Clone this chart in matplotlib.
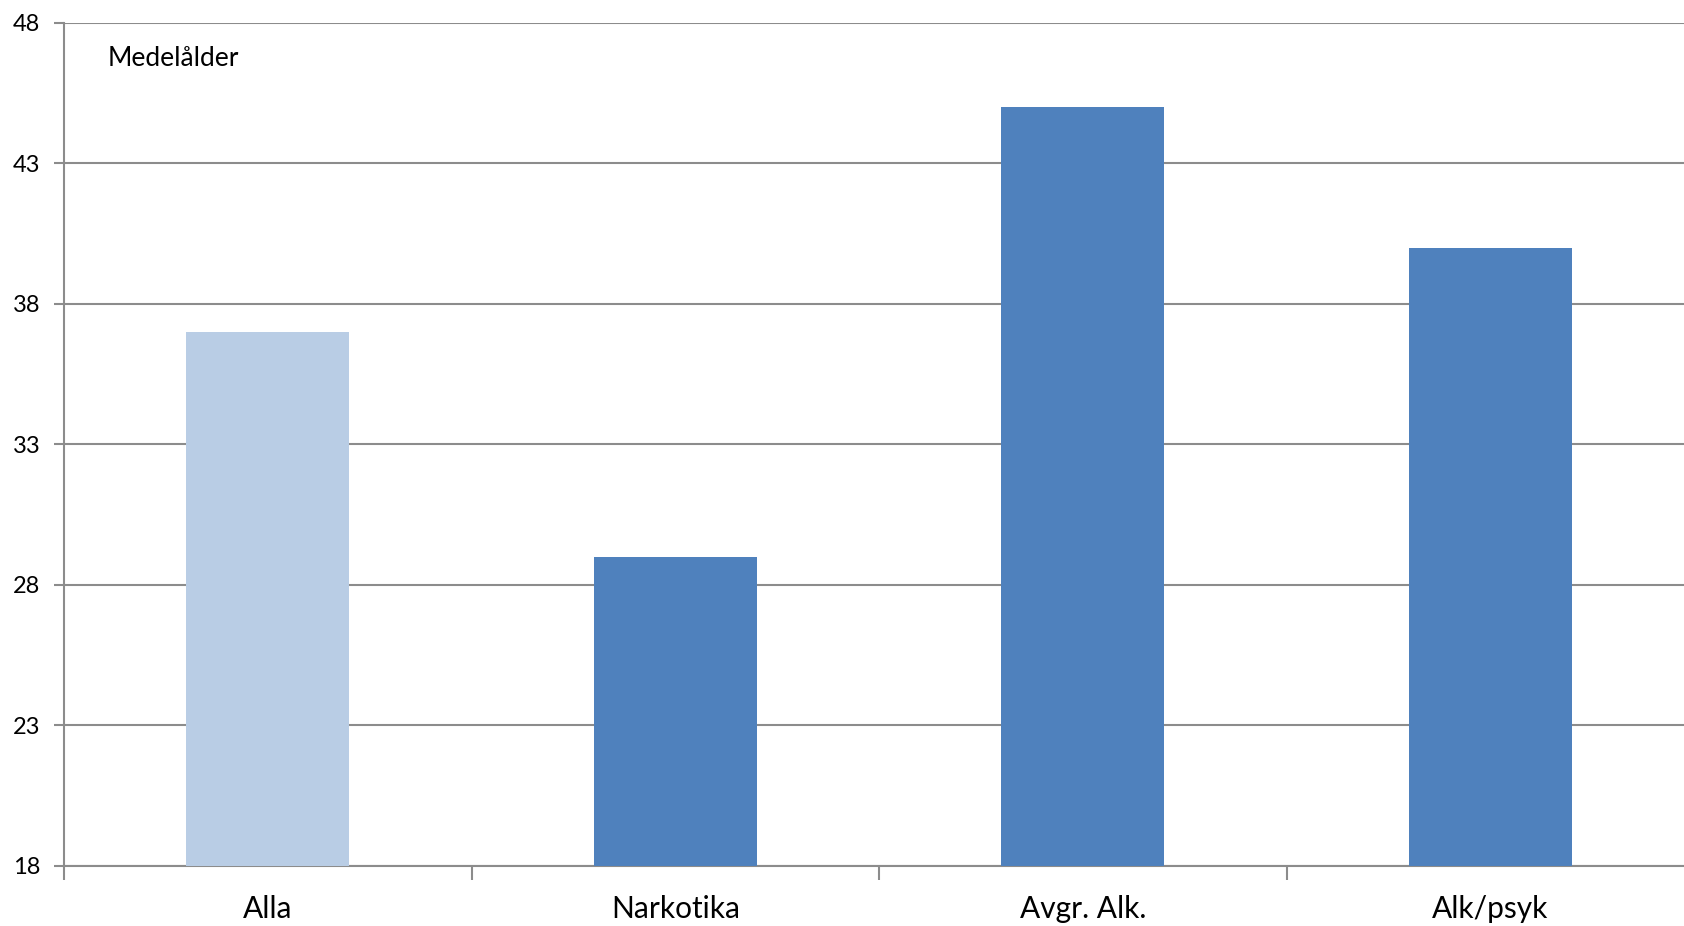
import numpy as np
import matplotlib.pyplot as plt

# Data
categories = ["Alla", "Narkotika", "Avgr. Alk.", "Alk/psyk"]
values = [37, 29, 45, 40]
colors = ["#B9CDE5", "#4F81BD", "#4F81BD", "#4F81BD"]
yticks = [18, 23, 28, 33, 38, 43, 48]

plt.rcParams['font.family'] = ['Lato', 'DejaVu Sans']

fig = plt.figure(figsize=(16.84, 9.26), dpi=100)
# plot area runs slightly past the right edge of the image
ax = fig.add_axes([64 / 1684, 1 - 866 / 926, (1694 - 64) / 1684, (866 - 22.7) / 926])

x = np.arange(len(categories))
ax.bar(x, [v - 18 for v in values], bottom=18, width=0.4, color=colors, zorder=3)

ax.set_xlim(-0.5, 3.5)
ax.set_ylim(18, 48)
ax.set_yticks(yticks)
ax.set_yticklabels([str(t) for t in yticks], fontsize=17)
ax.yaxis.grid(True, color="#8c8c8c", linewidth=1.5, zorder=0)
ax.tick_params(axis='y', length=7, width=1.5, color="#8c8c8c", pad=10)

# category boundaries as major ticks, labels at centres as minor ticks
ax.set_xticks([-0.5, 0.5, 1.5, 2.5])
ax.set_xticklabels([])
ax.tick_params(axis='x', which='major', length=10, width=1.5, color="#8c8c8c")
ax.set_xticks(x, minor=True)
ax.set_xticklabels(categories, minor=True, fontsize=21.5)
ax.tick_params(axis='x', which='minor', length=0, pad=21)

for s in ['top', 'right']:
    ax.spines[s].set_visible(False)
for s in ['left', 'bottom']:
    ax.spines[s].set_color("#8c8c8c")
    ax.spines[s].set_linewidth(1.5)

ax.text(0.0265, 0.958, "Medelålder", transform=ax.transAxes, fontsize=19,
        va='center', ha='left')

fig.savefig("out.png", dpi=100)
